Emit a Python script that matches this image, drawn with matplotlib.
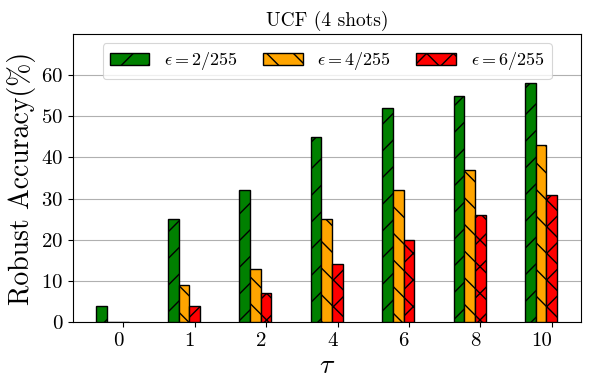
import matplotlib
matplotlib.use("Agg")
import matplotlib.pyplot as plt
import numpy as np

# drawn at 80 dpi so hatch spacing matches; sizes scaled by s
s = 100 / 80
plt.rcParams['font.family'] = 'serif'
plt.rcParams['font.serif'] = ['cmr10', 'DejaVu Serif']
plt.rcParams['mathtext.fontset'] = 'cm'
plt.rcParams['axes.unicode_minus'] = False
plt.rcParams['axes.formatter.use_mathtext'] = True
plt.rcParams['axes.linewidth'] = 0.8 * s
plt.rcParams['grid.linewidth'] = 0.8 * s
plt.rcParams['hatch.linewidth'] = 1.0 * s
for a in ('xtick', 'ytick'):
    plt.rcParams[a + '.major.size'] = 3.5 * s
    plt.rcParams[a + '.major.width'] = 0.8 * s
    plt.rcParams[a + '.major.pad'] = 3.5 * s

taus = ['0', '1', '2', '4', '6', '8', '10']
eps2 = [4, 25, 32, 45, 52, 55, 58]
eps4 = [0, 9, 13, 25, 32, 37, 43]
eps6 = [0, 4, 7, 14, 20, 26, 31]
labels = [r'$\epsilon=2/255$', r'$\epsilon=4/255$', r'$\epsilon=6/255$']
colors = ['green', 'orange', 'red']
hatches = ['/', '\\', 'x']

fig, ax = plt.subplots(figsize=(5.9 * s, 3.9 * s), dpi=80)
x = np.arange(len(taus))
w = 0.15
for k, vals in enumerate([eps2, eps4, eps6]):
    ax.bar(x + (k - 2) * w, vals, w, color=colors[k], edgecolor='black',
           hatch=hatches[k], linewidth=1 * s, label=labels[k], zorder=3)

ax.set_xticks(x)
ax.set_xticklabels(taus, ha='right')
ax.set_xlim(-0.7, 6.41)
ax.set_ylim(0, 70)
ax.set_yticks(range(0, 70, 10))
ax.tick_params(labelsize=15 * s)
ax.yaxis.grid(True, color='#b0b0b0', zorder=0)
ax.set_axisbelow(True)
ax.set_xlabel(r'$\tau$', fontsize=20 * s, labelpad=2 * s)
ax.set_ylabel('Robust Accuracy(%)', fontsize=20 * s, labelpad=4 * s)
ax.set_title('UCF (4 shots)', fontsize=14 * s, pad=6 * s)
ax.legend(loc='upper center', ncol=3, fontsize=13 * s, handlelength=2.2,
          columnspacing=1.4, borderaxespad=0.5)

fig.subplots_adjust(left=0.124, right=0.985, top=0.913, bottom=0.174)
plt.savefig('out.png')
